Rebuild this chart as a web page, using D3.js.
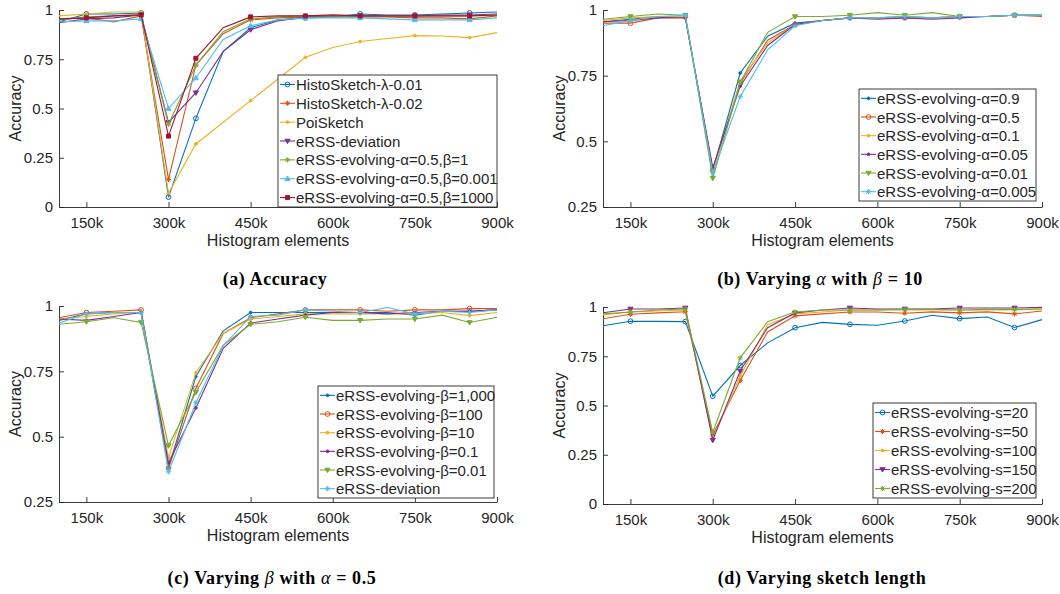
<!DOCTYPE html>
<html>
<head>
<meta charset="utf-8">
<script src="https://cdn.jsdelivr.net/npm/d3@7"></script>
<style>
  body { margin: 0; background: #fff; }
  svg { display: block; }
  text { font-family: "Liberation Sans", Arial, sans-serif; fill: #262626; }
  .caption { font-family: "Liberation Serif", "DejaVu Serif", serif; font-weight: bold; fill: #000; }
</style>
</head>
<body>
<script>
// x positions (thousands of histogram elements)
var xVals = [100, 150, 200, 250, 300, 350, 400, 450, 500, 550, 600, 650, 700, 750, 800, 850, 900];
var xTicks = [150, 300, 450, 600, 750, 900];
var markIdx = [1, 3, 4, 5, 7, 9, 11, 13, 15];

// (a) Accuracy
var aNames = ['HistoSketch-λ-0.01', 'HistoSketch-λ-0.02', 'PoiSketch', 'eRSS-deviation',
  'eRSS-evolving-α=0.5,β=1', 'eRSS-evolving-α=0.5,β=0.001', 'eRSS-evolving-α=0.5,β=1000'];
var aHisto01 = [0.94, 0.98, 0.98, 0.985, 0.05, 0.45, 0.79, 0.91, 0.95, 0.96, 0.965, 0.98, 0.975, 0.975, 0.98, 0.985, 0.99];
var aHisto02 = [0.955, 0.96, 0.94, 0.97, 0.14, 0.72, 0.88, 0.95, 0.96, 0.965, 0.965, 0.965, 0.965, 0.96, 0.96, 0.955, 0.97];
var aPoi = [0.97, 0.98, 0.99, 0.99, 0.07, 0.32, 0.43, 0.54, 0.65, 0.76, 0.81, 0.84, 0.855, 0.87, 0.868, 0.86, 0.885];
var aDev = [0.935, 0.955, 0.96, 0.975, 0.43, 0.58, 0.79, 0.90, 0.945, 0.965, 0.97, 0.97, 0.97, 0.97, 0.975, 0.975, 0.98];
var aEvo1 = [0.95, 0.965, 0.97, 0.975, 0.42, 0.72, 0.89, 0.955, 0.965, 0.97, 0.97, 0.97, 0.97, 0.97, 0.97, 0.97, 0.975];
var aEvo0001 = [0.94, 0.945, 0.945, 0.955, 0.50, 0.655, 0.85, 0.92, 0.95, 0.96, 0.96, 0.96, 0.955, 0.95, 0.95, 0.95, 0.96];
var aEvo1000 = [0.955, 0.96, 0.97, 0.975, 0.36, 0.755, 0.91, 0.965, 0.97, 0.97, 0.975, 0.97, 0.97, 0.97, 0.97, 0.97, 0.975];

// (b) varying alpha
var bNames = ['eRSS-evolving-α=0.9', 'eRSS-evolving-α=0.5', 'eRSS-evolving-α=0.1',
  'eRSS-evolving-α=0.05', 'eRSS-evolving-α=0.01', 'eRSS-evolving-α=0.005'];
var bA09 = [0.955, 0.965, 0.975, 0.975, 0.39, 0.76, 0.90, 0.95, 0.96, 0.97, 0.97, 0.975, 0.97, 0.975, 0.975, 0.98, 0.98];
var bA05 = [0.95, 0.95, 0.97, 0.975, 0.39, 0.72, 0.885, 0.945, 0.96, 0.97, 0.97, 0.97, 0.97, 0.975, 0.975, 0.98, 0.975];
var bA01 = [0.96, 0.97, 0.975, 0.975, 0.38, 0.73, 0.875, 0.945, 0.96, 0.97, 0.97, 0.975, 0.97, 0.975, 0.975, 0.98, 0.98];
var bA005 = [0.955, 0.96, 0.97, 0.97, 0.40, 0.71, 0.865, 0.945, 0.96, 0.97, 0.965, 0.97, 0.965, 0.97, 0.975, 0.98, 0.98];
var bA001 = [0.965, 0.975, 0.985, 0.98, 0.36, 0.725, 0.915, 0.975, 0.975, 0.98, 0.99, 0.98, 0.99, 0.975, 0.975, 0.98, 0.98];
var bA0005 = [0.94, 0.96, 0.975, 0.98, 0.38, 0.67, 0.848, 0.94, 0.96, 0.97, 0.97, 0.975, 0.97, 0.975, 0.975, 0.98, 0.98];

// (c) varying beta
var cNames = ['eRSS-evolving-β=1,000', 'eRSS-evolving-β=100', 'eRSS-evolving-β=10',
  'eRSS-evolving-β=0.1', 'eRSS-evolving-β=0.01', 'eRSS-deviation'];
var cB1000 = [0.945, 0.97, 0.975, 0.975, 0.38, 0.73, 0.905, 0.975, 0.975, 0.975, 0.975, 0.975, 0.975, 0.965, 0.98, 0.98, 0.985];
var cB100 = [0.955, 0.975, 0.98, 0.985, 0.38, 0.685, 0.895, 0.955, 0.97, 0.985, 0.985, 0.985, 0.98, 0.985, 0.985, 0.99, 0.99];
var cB10 = [0.95, 0.96, 0.97, 0.975, 0.42, 0.745, 0.895, 0.95, 0.96, 0.97, 0.97, 0.97, 0.97, 0.97, 0.975, 0.963, 0.975];
var cB01 = [0.95, 0.945, 0.96, 0.975, 0.40, 0.61, 0.838, 0.935, 0.95, 0.965, 0.975, 0.975, 0.97, 0.975, 0.98, 0.98, 0.985];
var cB001 = [0.93, 0.94, 0.955, 0.937, 0.466, 0.67, 0.85, 0.93, 0.94, 0.957, 0.945, 0.945, 0.95, 0.95, 0.965, 0.937, 0.957];
var cDev = [0.935, 0.97, 0.975, 0.975, 0.366, 0.63, 0.848, 0.96, 0.965, 0.985, 0.98, 0.975, 0.994, 0.97, 0.98, 0.975, 0.985];

// (d) varying sketch length
var dNames = ['eRSS-evolving-s=20', 'eRSS-evolving-s=50', 'eRSS-evolving-s=100',
  'eRSS-evolving-s=150', 'eRSS-evolving-s=200'];
var dS20 = [0.905, 0.928, 0.927, 0.926, 0.547, 0.703, 0.818, 0.895, 0.922, 0.912, 0.907, 0.929, 0.958, 0.941, 0.949, 0.896, 0.936];
var dS50 = [0.94, 0.963, 0.97, 0.976, 0.35, 0.627, 0.873, 0.955, 0.965, 0.975, 0.975, 0.968, 0.975, 0.97, 0.975, 0.965, 0.98];
var dS100 = [0.96, 0.975, 0.98, 0.985, 0.33, 0.65, 0.91, 0.965, 0.975, 0.985, 0.985, 0.985, 0.985, 0.985, 0.985, 0.985, 0.99];
var dS150 = [0.971, 0.99, 0.99, 0.995, 0.324, 0.675, 0.895, 0.97, 0.985, 0.995, 0.99, 0.99, 0.99, 0.995, 0.995, 0.995, 0.998];
var dS200 = [0.965, 0.975, 0.985, 0.99, 0.364, 0.742, 0.925, 0.975, 0.985, 0.985, 0.985, 0.988, 0.988, 0.985, 0.988, 0.988, 0.99];

var colors = ['#0072BD', '#D95319', '#EDB120', '#7E2F8E', '#77AC30', '#4DBEEE', '#A2142F'];

var svg = d3.select('body').append('svg')
  .attr('width', 1060)
  .attr('height', 594);

// small marker paths, centred on 0,0
function markerPath(type) {
  if (type === 'o') return d3.symbol(d3.symbolCircle, 18)();
  if (type === '.') return d3.symbol(d3.symbolCircle, 6)();
  if (type === 's') return 'M-2,-2H2V2H-2Z';
  if (type === 'v') return 'M-2.6,-1.8L2.6,-1.8L0,2.6Z';
  if (type === '^') return 'M-2.6,1.8L2.6,1.8L0,-2.6Z';
  if (type === '*') return 'M-2.6,0H2.6M0,-2.6V2.6M-1.9,-1.9L1.9,1.9M-1.9,1.9L1.9,-1.9';
  if (type === '+') return 'M-2.8,0H2.8M0,-2.8V2.8';
  return '';
}

function drawMarker(g, type, color, x, y) {
  var filled = (type === '.' || type === 's' || type === 'v' || type === '^');
  g.append('path')
    .attr('d', markerPath(type))
    .attr('transform', 'translate(' + x + ',' + y + ')')
    .attr('fill', filled ? color : 'none')
    .attr('stroke', color)
    .attr('stroke-width', 1);
}

function drawPanel(p) {
  var x = d3.scaleLinear().domain([100, 900]).range([p.left, p.left + p.width]);
  var y = d3.scaleLinear().domain(p.yDomain).range([p.top + p.height, p.top]);
  var g = svg.append('g');

  // bottom axis
  var xAxis = g.append('g')
    .attr('transform', 'translate(0,' + (p.top + p.height) + ')')
    .call(d3.axisBottom(x).tickValues(xTicks).tickSizeInner(-5).tickSizeOuter(0).tickPadding(10)
      .tickFormat(function(d) { return d + 'k'; }));
  // left axis
  var yAxis = g.append('g')
    .attr('transform', 'translate(' + p.left + ',0)')
    .call(d3.axisLeft(y).tickValues(p.yTicks).tickSizeInner(-5).tickSizeOuter(0).tickPadding(6)
      .tickFormat(function(d) { return String(d); }));
  [xAxis, yAxis].forEach(function(ax) {
    ax.select('.domain').attr('stroke', '#262626').attr('stroke-width', 0.9);
    ax.selectAll('.tick line').attr('stroke', '#262626').attr('stroke-width', 0.9);
    ax.selectAll('.tick text').attr('fill', '#262626')
      .style('font-family', '"Liberation Sans", Arial, sans-serif').style('font-size', '15px');
  });

  g.append('text')
    .attr('x', p.left + p.width / 2)
    .attr('y', p.top + p.height + 39)
    .attr('text-anchor', 'middle')
    .style('font-size', '16px')
    .text('Histogram elements');

  g.append('text')
    .attr('transform', 'translate(' + (p.left - 38) + ',' + (p.top + p.height / 2) + ') rotate(-90)')
    .attr('text-anchor', 'middle')
    .style('font-size', '16px')
    .text('Accuracy');

  var line = d3.line()
    .x(function(d, i) { return x(xVals[i]); })
    .y(function(d) { return y(d); });

  p.series.forEach(function(s, k) {
    g.append('path')
      .datum(s)
      .attr('d', line)
      .attr('fill', 'none')
      .attr('stroke', colors[k])
      .attr('stroke-width', 1.1);
    markIdx.forEach(function(i) {
      drawMarker(g, p.markers[k], colors[k], x(xVals[i]), y(s[i]));
    });
  });

  // legend
  var lg = g.append('g');
  lg.append('rect')
    .attr('x', p.legend.x).attr('y', p.legend.y)
    .attr('width', p.legend.w).attr('height', p.legend.h)
    .attr('fill', '#fff')
    .attr('stroke', '#262626')
    .attr('stroke-width', 0.9);
  var rowH = p.legend.h / p.names.length;
  p.names.forEach(function(name, k) {
    var cy = p.legend.y + rowH * (k + 0.5);
    lg.append('line')
      .attr('x1', p.legend.x + 2).attr('x2', p.legend.x + 17)
      .attr('y1', cy).attr('y2', cy)
      .attr('stroke', colors[k]).attr('stroke-width', 1.1);
    drawMarker(lg, p.markers[k], colors[k], p.legend.x + 9.5, cy);
    lg.append('text')
      .attr('x', p.legend.x + 18)
      .attr('y', cy + 5.5)
      .style('font-size', '15px')
      .text(name);
  });

  // caption with italic greek letters
  var cap = g.append('text')
    .attr('class', 'caption')
    .attr('x', p.capX)
    .attr('y', p.capY)
    .attr('text-anchor', 'middle')
    .style('font-size', '18px')
    .style('letter-spacing', '0.6px');
  p.caption.forEach(function(part) {
    cap.append('tspan')
      .style('font-style', part.it ? 'italic' : 'normal')
      .style('font-weight', part.it ? 'normal' : 'bold')
      .text(part.t);
  });
}

drawPanel({
  left: 59, top: 10, width: 438, height: 197,
  yDomain: [0, 1], yTicks: [0, 0.25, 0.5, 0.75, 1],
  series: [aHisto01, aHisto02, aPoi, aDev, aEvo1, aEvo0001, aEvo1000],
  names: aNames,
  markers: ['o', '*', '.', 'v', '*', '^', 's'],
  legend: { x: 278, y: 75, w: 219, h: 132 },
  caption: [{ t: '(a) Accuracy' }],
  capX: 275, capY: 285
});

drawPanel({
  left: 603, top: 10, width: 439, height: 197,
  yDomain: [0.25, 1], yTicks: [0.25, 0.5, 0.75, 1],
  series: [bA09, bA05, bA01, bA005, bA001, bA0005],
  names: bNames,
  markers: ['.', 'o', '.', '.', 'v', '*'],
  legend: { x: 859, y: 89, w: 177, h: 112 },
  caption: [{ t: '(b) Varying ' }, { t: 'α', it: true }, { t: ' with ' }, { t: 'β', it: true }, { t: ' = 10' }],
  capX: 820, capY: 285
});

drawPanel({
  left: 59, top: 306, width: 438, height: 196,
  yDomain: [0.25, 1], yTicks: [0.25, 0.5, 0.75, 1],
  series: [cB1000, cB100, cB10, cB01, cB001, cDev],
  names: cNames,
  markers: ['.', 'o', '.', '.', 'v', '*'],
  legend: { x: 318, y: 386, w: 176, h: 112 },
  caption: [{ t: '(c) Varying ' }, { t: 'β', it: true }, { t: ' with ' }, { t: 'α', it: true }, { t: ' = 0.5' }],
  capX: 272, capY: 584
});

drawPanel({
  left: 603, top: 307, width: 439, height: 197,
  yDomain: [0, 1], yTicks: [0, 0.25, 0.5, 0.75, 1],
  series: [dS20, dS50, dS100, dS150, dS200],
  names: dNames,
  markers: ['o', '*', '.', 'v', '*'],
  legend: { x: 873, y: 403, w: 163, h: 95 },
  caption: [{ t: '(d) Varying sketch length' }],
  capX: 822, capY: 584
});
</script>
</body>
</html>
